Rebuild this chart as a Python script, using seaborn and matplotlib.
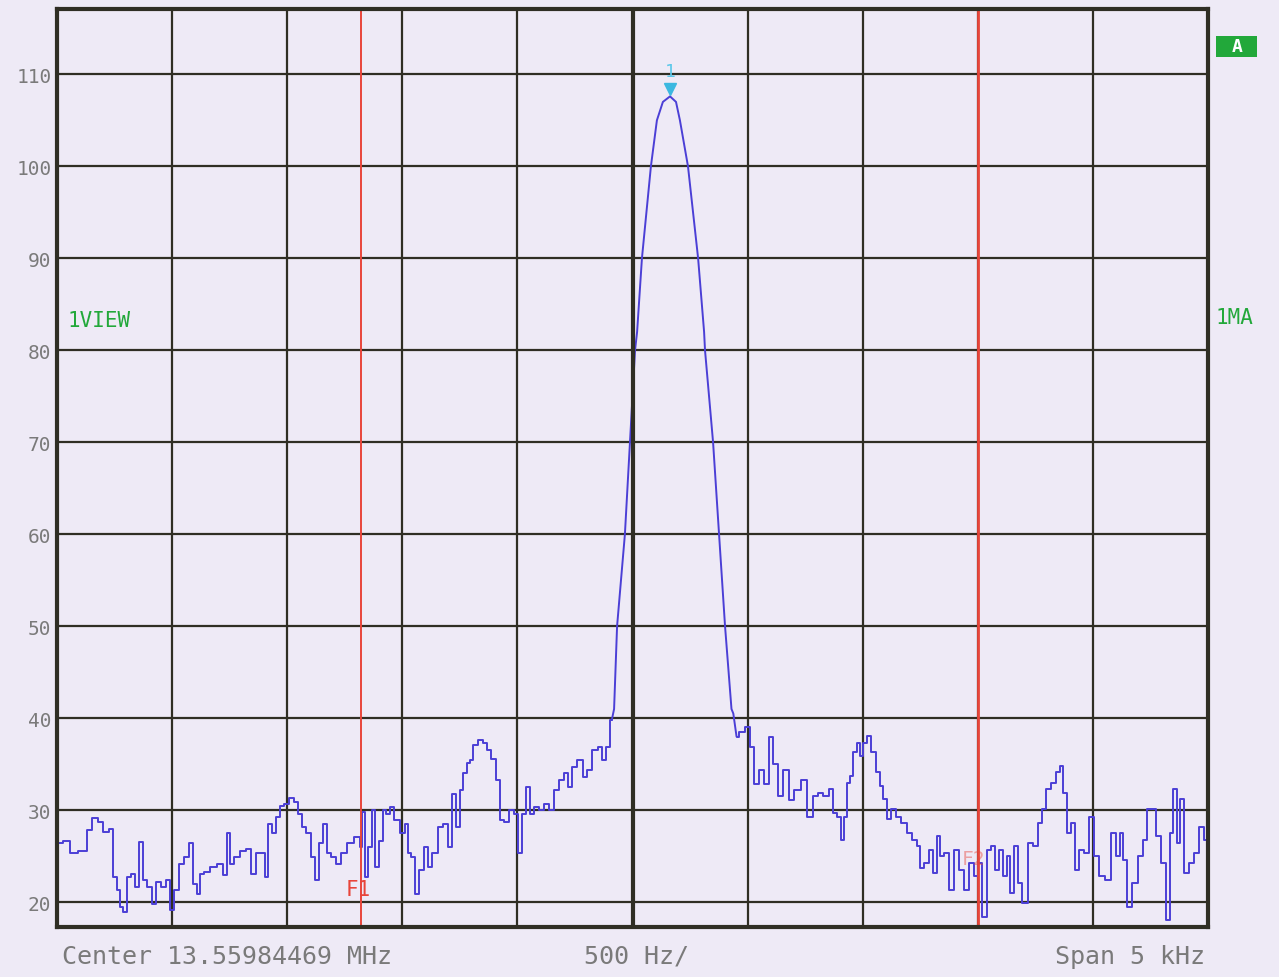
import seaborn as sns
from matplotlib import pyplot as plt
from matplotlib.patches import Rectangle
import pandas as pd

# frequency offset from centre (Hz) and level (dB)
left_freq = [-2500, -2487, -2458, -2429, -2386, -2357, -2335, -2313, -2284, -2263, -2248, -2234, -2219,
             -2205, -2190, -2168, -2154, -2132, -2118, -2096, -2082, -2060, -2038, -2016, -2002, -1980,
             -1958, -1937, -1915, -1901, -1886, -1872, -1850, -1821, -1792, -1770, -1756, -1741, -1719,
             -1691, -1669, -1647, -1625, -1604, -1589, -1575, -1560, -1539, -1524, -1502, -1481, -1459,
             -1444, -1430, -1408, -1386, -1372, -1350, -1336, -1321, -1300, -1278, -1256, -1227, -1191,
             -1177, -1169, -1155, -1140, -1126, -1111, -1090, -1082, -1061, -1046, -1024, -996, -981,
             -970, -952, -935, -916, -894, -880, -858, -836, -807, -793, -778, -757, -742, -728, -713,
             -699, -684, -662, -641, -626, -605, -583, -568, -547, -525, -503, -489, -474, -453, -438,
             -416, -395, -373, -351, -329, -308, -286, -272, -250, -228, -206, -185, -163, -141, -127,
             -105, -90]
left_db = [26.8, 26.4, 26.7, 25.3, 25.6, 27.8, 29.1, 28.7, 27.6, 28.0, 22.7, 21.3, 19.5,
           18.9, 22.7, 23.1, 21.6, 26.5, 22.4, 21.6, 19.8, 22.2, 21.6, 22.4, 19.1, 21.3,
           24.2, 24.9, 26.4, 22.0, 20.9, 23.1, 23.3, 23.8, 24.2, 22.9, 27.5, 24.2, 24.9,
           25.6, 25.8, 23.1, 25.3, 25.3, 22.7, 28.5, 27.5, 29.3, 30.5, 30.7, 31.3, 30.9,
           29.6, 28.2, 27.5, 24.9, 22.4, 26.4, 28.5, 25.3, 24.9, 24.2, 25.3, 26.4, 27.1,
           26.0, 29.8, 22.7, 26.0, 30.0, 23.8, 26.7, 30.0, 29.6, 30.4, 28.9, 27.5, 28.5,
           25.3, 24.9, 20.9, 23.5, 26.0, 23.8, 25.3, 28.2, 28.5, 26.0, 31.8, 28.2, 32.2, 34.0, 35.1,
           35.5, 37.1, 37.6, 37.3, 36.5, 35.6, 33.3, 28.9, 28.7, 30.0, 29.6, 25.3, 29.6, 32.5, 29.6,
           30.4, 30.0, 30.7, 30.0, 32.2, 33.3, 34.0, 32.5, 34.7, 35.5, 33.6, 34.4, 36.5, 36.9, 35.5,
           36.9, 39.8]

peak_freq = [-90, -80, -67, -33, -11, 11, 20, 41, 80, 106, 132, 163, 189, 206, 241, 285, 311, 315,
             350, 376, 402, 430, 438, 452]
peak_db = [39.8, 41.0, 50.0, 60.0, 70.0, 80.0, 82.0, 90.0, 100.0, 105.0, 107.0, 107.6, 107.0, 105.0,
           100.0, 90.0, 82.0, 80.0, 70.0, 60.0, 50.0, 41.0, 40.5, 38.0]

right_freq = [452, 474, 503, 518, 539, 561, 583, 605, 619, 641, 670, 691, 713, 749, 771, 800,
              815, 843, 865, 880, 901, 913, 923, 938, 952, 966, 981, 995, 1010, 1029, 1046, 1068,
              1082, 1097, 1111, 1133, 1155, 1177, 1205, 1227, 1242, 1256, 1278, 1300, 1314, 1329,
              1343, 1365, 1386, 1408, 1430, 1452, 1473, 1495, 1509, 1531, 1546, 1567, 1582, 1604,
              1618, 1633, 1647, 1669, 1683, 1705, 1727, 1756, 1770, 1785, 1806, 1828, 1850, 1864,
              1879, 1893, 1915, 1929, 1951, 1973, 1995, 2016, 2038, 2067, 2089, 2110, 2125, 2139,
              2161, 2183, 2205, 2226, 2248, 2262, 2284, 2306, 2328, 2342, 2357, 2371, 2386, 2407,
              2429, 2451, 2472, 2494, 2500]
right_db = [38.0, 38.5, 39.0, 36.9, 32.9, 34.4, 32.9, 38.0, 35.0, 31.5, 34.4, 31.1, 32.2, 33.3, 29.3, 31.5,
            31.9, 31.5, 32.3, 29.7, 29.3, 26.8, 29.3, 33.0, 33.7, 36.3, 37.3, 35.9, 37.3, 38.1, 36.3, 34.1,
            32.6, 31.2, 29.0, 30.1, 29.3, 28.6, 27.5, 26.8, 26.1, 23.7, 24.3, 25.7, 23.2, 27.2,
            25.0, 25.3, 21.3, 25.7, 23.5, 21.3, 24.3, 22.8, 24.3, 18.4, 25.7, 26.1, 23.5, 25.7,
            22.8, 25.0, 21.0, 26.1, 22.1, 19.9, 26.4, 26.1, 28.6, 30.1, 32.3, 33.0, 34.1, 34.8,
            31.9, 27.5, 28.6, 23.5, 25.7, 25.3, 29.3, 25.0, 22.8, 22.4, 27.5, 25.0, 27.5, 24.6,
            19.5, 22.1, 25.0, 26.8, 30.1, 30.1, 27.2, 24.3, 18.1, 27.5, 32.3, 26.4, 31.2, 23.2,
            24.3, 25.3, 28.2, 26.8, 32.3]

marker_freq = 163
marker_db = 108.4
f1_freq = -1180
f2_freq = 1500
level_ticks = [20, 30, 40, 50, 60, 70, 80, 90, 100, 110]

bg = "#EEEAF6"
grid_col = "#2F2E24"
trace_col = "#4B3FD6"
red = "#E8453A"
green = "#22A83A"
gray = "#7A7A7A"
mono = "DejaVu Sans Mono"

noise_left = pd.DataFrame({"freq": left_freq, "level": left_db})
carrier = pd.DataFrame({"freq": peak_freq, "level": peak_db})
noise_right = pd.DataFrame({"freq": right_freq, "level": right_db})

sns.set_style("white")
fig = plt.figure(figsize=(12.79, 9.78), dpi=100, facecolor=bg)
ax = fig.add_axes([57 / 1279, 1 - 928 / 978, 1151 / 1279, 918 / 978])
ax.set_facecolor(bg)

# noise floor is drawn stepped like the analyser trace, the carrier smooth
for part in (noise_left, noise_right):
    sns.lineplot(data=part, x="freq", y="level", color=trace_col, linewidth=1.4, ax=ax,
                 sort=False, drawstyle="steps-mid")
sns.lineplot(data=carrier, x="freq", y="level", color=trace_col, linewidth=1.4, ax=ax, sort=False)

ax.set_xlim(-2500, 2500)
ax.set_ylim(17.3, 117.1)
ax.set_xticks(range(-2500, 2501, 500))
ax.set_yticks(level_ticks)
ax.grid(True, color=grid_col, linewidth=1.6)
ax.axvline(0, color=grid_col, linewidth=3)
ax.set_xticklabels([])
ax.set_yticklabels([str(v) for v in level_ticks], family=mono, fontsize=14, color=gray)
ax.tick_params(axis="both", length=0, pad=4)
ax.set_xlabel("")
ax.set_ylabel("")
for s in ax.spines.values():
    s.set_color(grid_col)
    s.set_linewidth(3)

# limit lines F1 / F2
ax.axvline(f1_freq, color=red, linewidth=1.4)
ax.axvline(f2_freq, color=red, linewidth=2)
ax.text(f1_freq - 10, 21.4, "F1", color=red, family=mono, fontsize=15, ha="center", va="center")
ax.text(f2_freq - 20, 24.7, "F2", color=red, family=mono, fontsize=14, ha="center", va="center", alpha=0.45)

# peak marker
ax.plot([marker_freq], [marker_db], marker="v", color="#3BB8E0", markersize=8)
ax.text(marker_freq, 110.4, "1", color="#5CC8EA", family=mono, fontsize=13, ha="center", va="center")

ax.text(0.009, 0.661, "1VIEW", transform=ax.transAxes, color=green, family=mono,
        fontsize=15, ha="left", va="center")
fig.text(1215 / 1279, 1 - 318 / 978, "1MA", color=green, family=mono, fontsize=15, ha="left", va="center")
fig.patches.append(Rectangle((1216 / 1279, 1 - 58 / 978), 41 / 1279, 21 / 978,
                             transform=fig.transFigure, facecolor=green, edgecolor="none"))
fig.text(1237 / 1279, 1 - 47 / 978, "A", color="white", family=mono, fontsize=13,
         fontweight="bold", ha="center", va="center")

fig.text(62 / 1279, 1 - 957 / 978, "Center 13.55984469 MHz", color=gray, family=mono,
         fontsize=18, ha="left", va="center")
fig.text(637 / 1279, 1 - 957 / 978, "500 Hz/", color=gray, family=mono,
         fontsize=18, ha="center", va="center")
fig.text(1205 / 1279, 1 - 957 / 978, "Span 5 kHz", color=gray, family=mono,
         fontsize=18, ha="right", va="center")

fig.savefig("out.png", dpi=100, facecolor=bg)
